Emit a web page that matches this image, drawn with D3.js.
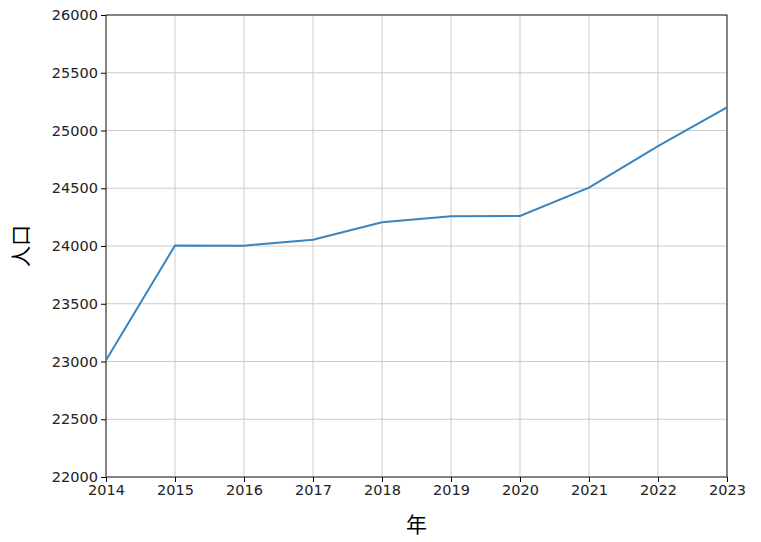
<!DOCTYPE html>
<html><head><meta charset="utf-8">
<script src="https://cdn.jsdelivr.net/npm/d3@7"></script>
<style>body{margin:0;background:#fff}</style></head>
<body><svg id="c" width="761" height="542"></svg>
<script>
const years=[2014,2015,2016,2017,2018,2019,2020,2021,2022,2023];
const population=[23010,24005,24003,24055,24205,24258,24260,24505,24865,25200];
const yTicks=[22000,22500,23000,23500,24000,24500,25000,25500,26000];
const svg=d3.select("#c");
const m={l:106,r:727,t:15,b:477};
const x=d3.scaleLinear().domain([2014,2023]).range([m.l,m.r]);
const y=d3.scaleLinear().domain([22000,26000]).range([m.b,m.t]);
const font="'Noto Sans CJK JP', 'DejaVu Sans', sans-serif";
const tfont="'DejaVu Sans', sans-serif";
const g=svg.append("g");
g.selectAll(".gx").data(years).enter().append("line").attr("x1",d=>x(d)).attr("x2",d=>x(d)).attr("y1",m.t).attr("y2",m.b).attr("stroke","#cccccc").attr("stroke-width",1);
g.selectAll(".gy").data(yTicks).enter().append("line").attr("y1",d=>y(d)).attr("y2",d=>y(d)).attr("x1",m.l).attr("x2",m.r).attr("stroke","#cccccc").attr("stroke-width",1);
const xa=svg.append("g").attr("transform",`translate(0,${m.b})`).call(d3.axisBottom(x).tickValues(years).tickFormat(d3.format("d")).tickSize(5).tickSizeOuter(0));
const ya=svg.append("g").attr("transform",`translate(${m.l},0)`).call(d3.axisLeft(y).tickValues(yTicks).tickFormat(d3.format("d")).tickSize(5).tickSizeOuter(0));
[xa,ya].forEach(a=>{a.selectAll("text").attr("font-family",tfont).attr("font-size",14.5).attr("fill","#222");a.select(".domain").remove();});
svg.append("rect").attr("x",m.l).attr("y",m.t).attr("width",m.r-m.l).attr("height",m.b-m.t).attr("fill","none").attr("stroke","#222").attr("stroke-width",1);
svg.append("path").datum(years.map((yr,i)=>[yr,population[i]])).attr("fill","none").attr("stroke","#3a84bd").attr("stroke-width",2)
 .attr("d",d3.line().x(d=>x(d[0])).y(d=>y(d[1])));
svg.append("text").attr("x",(m.l+m.r)/2).attr("y",532).attr("text-anchor","middle").attr("font-family",font).attr("font-size",21).text("年");
svg.append("text").attr("transform",`translate(28,${(m.t+m.b)/2}) rotate(-90)`).attr("text-anchor","middle").attr("font-family",font).attr("font-size",21).text("人口");
</script></body></html>
